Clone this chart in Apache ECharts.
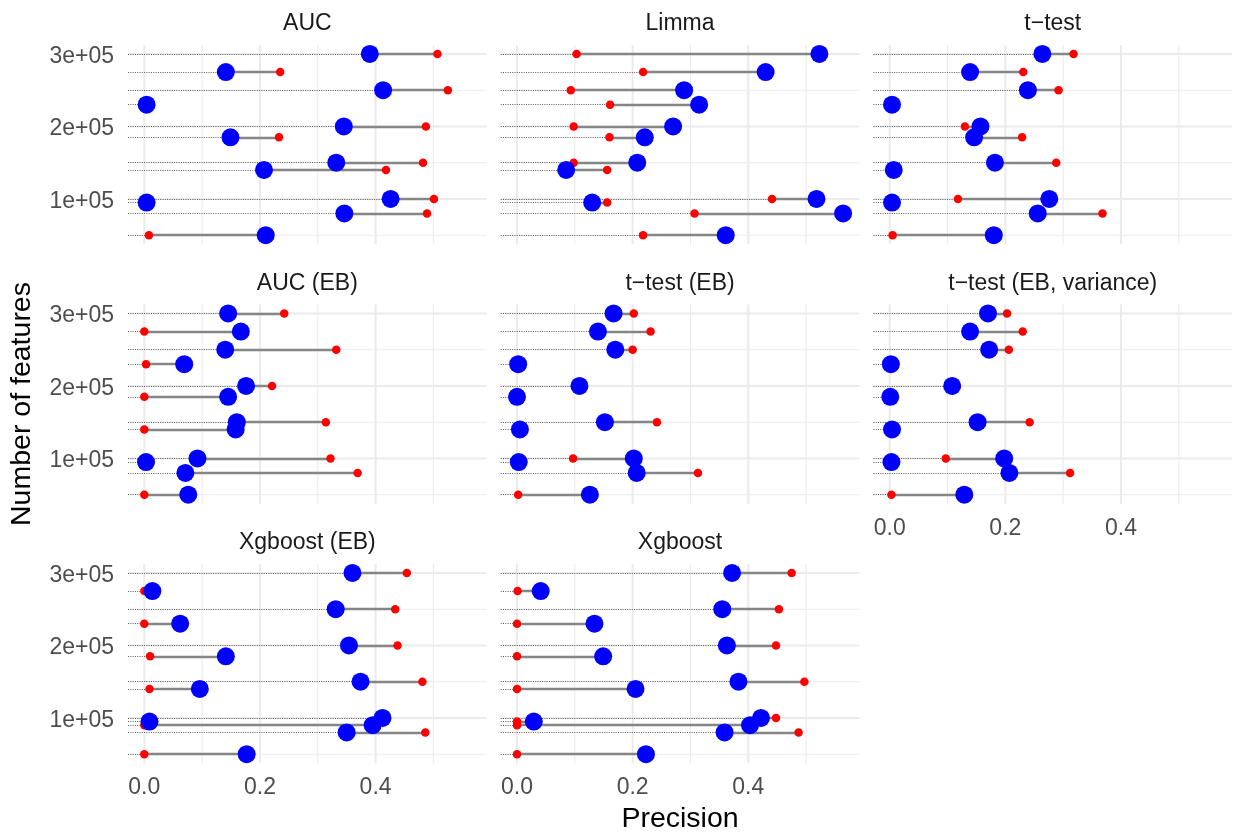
<!DOCTYPE html>
<html>
<head>
<meta charset="utf-8">
<script src="https://cdn.jsdelivr.net/npm/echarts@6/dist/echarts.min.js"></script>
<style>html,body{margin:0;padding:0;background:#fff}#c{width:1238px;height:834px}</style>
</head>
<body>
<div id="c"></div>
<script>
// ---------- data ----------
const panelTitles = ['AUC', 'Limma', 't\u2212test', 'AUC (EB)', 't\u2212test (EB)', 't\u2212test (EB, variance)', 'Xgboost (EB)', 'Xgboost'];
const features    = [300000, 275000, 250000, 230000, 200000, 185000, 150000, 140000, 100000, 95000, 80000, 50000];
const featuresXgb = [300000, 275000, 250000, 230000, 200000, 185000, 150000, 140000, 100000, 95000, 90000, 80000, 50000];
const xTicks = [0, 0.2, 0.4];
const yTicks = [100000, 200000, 300000];

const aucRed    = [0.507, 0.235, 0.525, 0.000, 0.487, 0.233, 0.482, 0.418, 0.501, 0.000, 0.489, 0.008];
const aucBlue   = [0.390, 0.141, 0.413, 0.004, 0.345, 0.149, 0.332, 0.207, 0.426, 0.004, 0.346, 0.210];
const limmaRed  = [0.103, 0.218, 0.093, 0.161, 0.098, 0.160, 0.098, 0.156, 0.441, 0.156, 0.307, 0.218];
const limmaBlue = [0.523, 0.430, 0.289, 0.315, 0.270, 0.221, 0.208, 0.085, 0.518, 0.130, 0.564, 0.361];
const ttRed     = [0.318, 0.231, 0.292, 0.000, 0.130, 0.229, 0.288, 0.000, 0.118, 0.000, 0.368, 0.005];
const ttBlue    = [0.264, 0.139, 0.239, 0.004, 0.157, 0.146, 0.182, 0.007, 0.276, 0.004, 0.256, 0.180];
const aucEbRed  = [0.242, 0.000, 0.332, 0.003, 0.221, 0.000, 0.314, 0.000, 0.322, 0.000, 0.369, 0.000];
const aucEbBlue = [0.145, 0.167, 0.140, 0.069, 0.176, 0.145, 0.160, 0.158, 0.092, 0.003, 0.071, 0.076];
const ttEbRed   = [0.202, 0.231, 0.200, 0.000, 0.115, 0.000, 0.242, 0.000, 0.097, 0.000, 0.313, 0.002];
const ttEbBlue  = [0.167, 0.140, 0.170, 0.002, 0.108, 0.000, 0.152, 0.005, 0.202, 0.003, 0.207, 0.126];
const ttVarRed  = [0.203, 0.230, 0.206, 0.000, 0.116, 0.000, 0.242, 0.000, 0.097, 0.000, 0.312, 0.003];
const ttVarBlue = [0.170, 0.139, 0.172, 0.002, 0.108, 0.001, 0.152, 0.004, 0.198, 0.003, 0.207, 0.129];
const xgbEbRed  = [0.454, 0.000, 0.434, 0.000, 0.438, 0.010, 0.481, 0.009, 0.415, 0.005, 0.000, 0.486, 0.000];
const xgbEbBlue = [0.360, 0.014, 0.331, 0.062, 0.354, 0.141, 0.374, 0.096, 0.412, 0.009, 0.395, 0.350, 0.177];
const xgbRed    = [0.475, 0.001, 0.453, 0.000, 0.448, 0.000, 0.497, 0.000, 0.448, 0.000, 0.000, 0.487, 0.000];
const xgbBlue   = [0.372, 0.041, 0.355, 0.134, 0.363, 0.149, 0.383, 0.205, 0.422, 0.029, 0.403, 0.359, 0.223];

const panelY    = [features, features, features, features, features, features, featuresXgb, featuresXgb];
const panelRed  = [aucRed, limmaRed, ttRed, aucEbRed, ttEbRed, ttVarRed, xgbEbRed, xgbRed];
const panelBlue = [aucBlue, limmaBlue, ttBlue, aucEbBlue, ttEbBlue, ttVarBlue, xgbEbBlue, xgbBlue];

// ---------- scales (ggplot-style 5% expansion) ----------
const allX = [].concat(...panelRed, ...panelBlue);
const xLo = Math.min(...allX), xHi = Math.max(...allX);
const XMIN = xLo - 0.05 * (xHi - xLo), XMAX = xHi + 0.05 * (xHi - xLo);
const allY = [].concat(...panelY);
const yLo = Math.min(...allY), yHi = Math.max(...allY);
const YMIN = yLo - 0.05 * (yHi - yLo), YMAX = yHi + 0.05 * (yHi - yLo);
const xMajor = [0, 0.2, 0.4], xMinor = [0.1, 0.3, 0.5];
const yMajor = [100000, 200000, 300000], yMinor = [50000, 150000, 250000];

// ---------- layout ----------
const FONT = '"Liberation Sans", Arial, Helvetica, sans-serif';
const colLeft = [128, 500.7, 873.4], panelW = 358.7;
const rowTop = [44.9, 304.4, 563.9], panelH = 199.4;
const showX = [false, false, false, false, false, true, true, true];
const showY = [true, false, false, true, false, false, true, false];

const grids = [], xAxes = [], yAxes = [], series = [], graphics = [];
panelTitles.forEach((t, i) => {
  const r = Math.floor(i / 3), c = i % 3;
  grids.push({left: colLeft[c], top: rowTop[r], width: panelW, height: panelH, containLabel: false});
  xAxes.push({
    type: 'value', gridIndex: i, min: XMIN, max: XMAX,
    axisLine: {show: false}, axisTick: {show: false}, splitLine: {show: false},
    axisLabel: {show: showX[i], customValues: xTicks, formatter: v => v.toFixed(1),
      color: '#4D4D4D', fontSize: 23, fontFamily: FONT, margin: 13}
  });
  yAxes.push({
    type: 'value', gridIndex: i, min: YMIN, max: YMAX,
    axisLine: {show: false}, axisTick: {show: false}, splitLine: {show: false},
    axisLabel: {show: showY[i], customValues: yTicks, formatter: v => '{t|' + (v / 1e5) + 'e+05}',
      color: '#4D4D4D', fontSize: 23, fontFamily: FONT, margin: 14,
      rich: {t: {color: '#4D4D4D', fontSize: 23, fontFamily: FONT, padding: [5, 0, 0, 0]}}}
  });
  // gridlines
  const gdata = [];
  yMajor.forEach(v => gdata.push([0, v, 1, 1]));
  yMinor.forEach(v => gdata.push([0, v, 1, 0]));
  xMajor.forEach(v => gdata.push([v, YMIN, 0, 1]));
  xMinor.forEach(v => gdata.push([v, YMIN, 0, 0]));
  series.push({
    type: 'custom', xAxisIndex: i, yAxisIndex: i, z: 0, silent: true, data: gdata,
    renderItem: (params, api) => {
      const cs = params.coordSys;
      const p = api.coord([api.value(0), api.value(1)]);
      const w = api.value(3) ? 2.1 : 1.1;
      const shape = api.value(2)
        ? {x1: cs.x, y1: p[1], x2: cs.x + cs.width, y2: p[1]}
        : {x1: p[0], y1: cs.y, x2: p[0], y2: cs.y + cs.height};
      return {type: 'line', shape, style: {stroke: '#EBEBEB', lineWidth: w}};
    }
  });
  const ys = panelY[i], reds = panelRed[i], blues = panelBlue[i];
  // dotted leaders
  series.push({
    type: 'lines', coordinateSystem: 'cartesian2d', xAxisIndex: i, yAxisIndex: i, z: 1, silent: true,
    data: ys.map((y, k) => ({coords: [[XMIN, y], [Math.min(reds[k], blues[k]), y]]})),
    lineStyle: {color: '#333333', width: 0.8, type: [1, 1.3], opacity: 1}
  });
  // gray connector
  series.push({
    type: 'lines', coordinateSystem: 'cartesian2d', xAxisIndex: i, yAxisIndex: i, z: 2, silent: true,
    data: ys.map((y, k) => ({coords: [[reds[k], y], [blues[k], y]]})),
    lineStyle: {color: '#858585', width: 2.3, opacity: 1}
  });
  series.push({
    type: 'scatter', xAxisIndex: i, yAxisIndex: i, z: 3, silent: true,
    symbol: 'circle', symbolSize: 8.5, itemStyle: {color: '#FF0000', opacity: 1},
    data: ys.map((y, k) => [reds[k], y])
  });
  series.push({
    type: 'scatter', xAxisIndex: i, yAxisIndex: i, z: 4, silent: true,
    symbol: 'circle', symbolSize: 18, itemStyle: {color: '#0000FF', opacity: 1},
    data: ys.map((y, k) => [blues[k], y])
  });
  graphics.push({
    type: 'text', x: colLeft[c] + panelW / 2, y: rowTop[r] - 21,
    style: {text: t, fill: '#1A1A1A', font: '23px ' + FONT, align: 'center', verticalAlign: 'middle',
      textAlign: 'center', textVerticalAlign: 'middle'}
  });
});
graphics.push({
  type: 'text', x: 22, y: 404, rotation: Math.PI / 2,
  style: {text: 'Number of features', fill: '#000000', font: '28.5px ' + FONT, align: 'center', verticalAlign: 'middle',
    textAlign: 'center', textVerticalAlign: 'middle'}
});
graphics.push({
  type: 'text', x: 680, y: 819,
  style: {text: 'Precision', fill: '#000000', font: '28.5px ' + FONT, align: 'center', verticalAlign: 'middle',
    textAlign: 'center', textVerticalAlign: 'middle'}
});

const chart = echarts.init(document.getElementById('c'), null, {renderer: 'canvas'});
chart.setOption({
  animation: false,
  backgroundColor: '#FFFFFF',
  grid: grids, xAxis: xAxes, yAxis: yAxes, series: series, graphic: graphics
});
</script>
</body>
</html>
